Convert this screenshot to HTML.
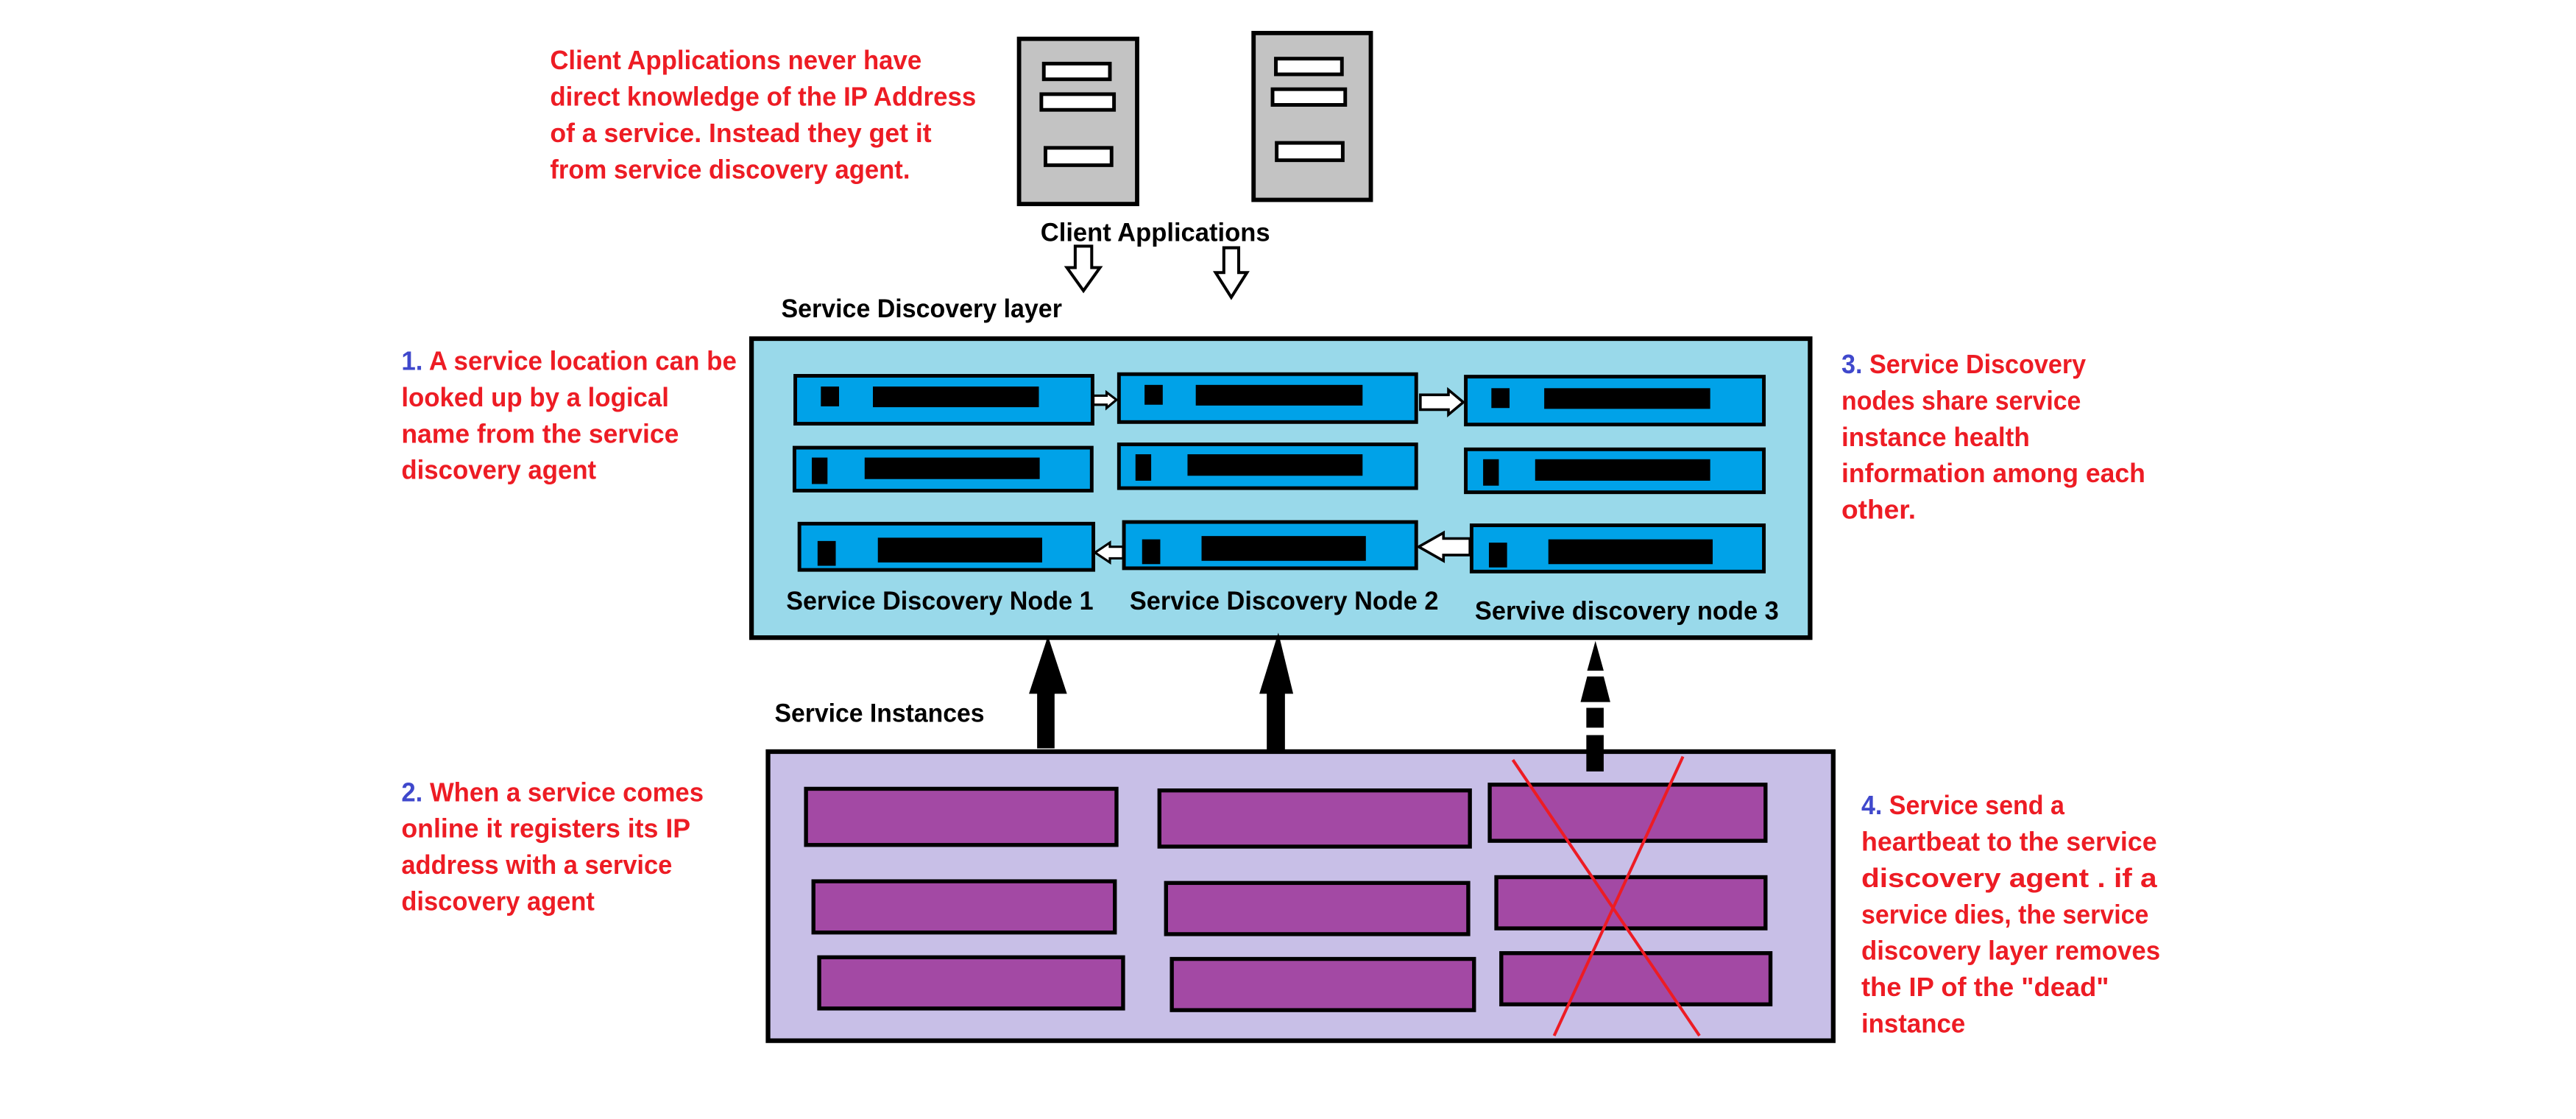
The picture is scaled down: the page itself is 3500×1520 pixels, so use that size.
<!DOCTYPE html>
<html><head><meta charset="utf-8"><style>
html,body{margin:0;padding:0;background:#fff;}
svg{display:block;}
text{font-family:"Liberation Sans",sans-serif;font-weight:bold;}
.r{fill:#ed1c24;font-size:16px;}
.k{fill:#000;font-size:15.5px;}
.b{fill:#3f48cc;}
.nd{fill:#00a2e8;stroke:#000;stroke-width:2.2;}
.pu{fill:#a349a4;stroke:#000;stroke-width:2.4;}
</style></head><body>
<svg width="3500" height="1520" viewBox="0 0 1559.7 677.4" xmlns="http://www.w3.org/2000/svg">
<rect width="1559.7" height="677.4" fill="#fff"/>

<!-- top red text -->
<text class="r" x="333" y="42" textLength="225" lengthAdjust="spacingAndGlyphs">Client Applications never have</text>
<text class="r" x="333" y="64" textLength="258" lengthAdjust="spacingAndGlyphs">direct knowledge of the IP Address</text>
<text class="r" x="333" y="86" textLength="231" lengthAdjust="spacingAndGlyphs">of a service. Instead they get it</text>
<text class="r" x="333" y="108" textLength="218" lengthAdjust="spacingAndGlyphs">from service discovery agent.</text>

<!-- client servers -->
<rect x="617" y="23.5" width="71.5" height="100" fill="#c3c3c3" stroke="#000" stroke-width="2.6"/>
<rect x="632" y="38.5" width="40" height="9.5" fill="#fff" stroke="#000" stroke-width="2.2"/>
<rect x="630.5" y="57" width="44" height="9.5" fill="#fff" stroke="#000" stroke-width="2.2"/>
<rect x="633" y="89.5" width="40" height="10.5" fill="#fff" stroke="#000" stroke-width="2.2"/>
<rect x="759" y="20" width="71" height="101" fill="#c3c3c3" stroke="#000" stroke-width="2.6"/>
<rect x="772.5" y="35.5" width="40" height="9.5" fill="#fff" stroke="#000" stroke-width="2.2"/>
<rect x="770.5" y="54" width="44" height="9.5" fill="#fff" stroke="#000" stroke-width="2.2"/>
<rect x="773" y="86.5" width="40" height="10.5" fill="#fff" stroke="#000" stroke-width="2.2"/>

<text class="k" x="630" y="146" textLength="139" lengthAdjust="spacingAndGlyphs">Client Applications</text>
<!-- hollow down arrows -->
<polygon points="651,149 661,149 661,162 666,162 656,176 646,162 651,162" fill="#fff" stroke="#000" stroke-width="1.8"/>
<polygon points="741,150 750,150 750,165 755,165 745.5,180 736,165 741,165" fill="#fff" stroke="#000" stroke-width="1.8"/>

<text class="k" x="473" y="192" textLength="170" lengthAdjust="spacingAndGlyphs">Service Discovery layer</text>

<!-- left texts -->
<text class="r" x="243" y="224" textLength="203" lengthAdjust="spacingAndGlyphs"><tspan class="b">1.</tspan> A service location can be</text>
<text class="r" x="243" y="246" textLength="162" lengthAdjust="spacingAndGlyphs">looked up by a logical</text>
<text class="r" x="243" y="268" textLength="168" lengthAdjust="spacingAndGlyphs">name from the service</text>
<text class="r" x="243" y="290" textLength="118" lengthAdjust="spacingAndGlyphs">discovery agent</text>

<text class="r" x="243" y="485" textLength="183" lengthAdjust="spacingAndGlyphs"><tspan class="b">2.</tspan> When a service comes</text>
<text class="r" x="243" y="507" textLength="175" lengthAdjust="spacingAndGlyphs">online it registers its IP</text>
<text class="r" x="243" y="529" textLength="164" lengthAdjust="spacingAndGlyphs">address with a service</text>
<text class="r" x="243" y="551" textLength="117" lengthAdjust="spacingAndGlyphs">discovery agent</text>

<!-- right texts -->
<text class="r" x="1115" y="226" textLength="148" lengthAdjust="spacingAndGlyphs"><tspan class="b">3.</tspan> Service Discovery</text>
<text class="r" x="1115" y="248" textLength="145" lengthAdjust="spacingAndGlyphs">nodes share service</text>
<text class="r" x="1115" y="270" textLength="114" lengthAdjust="spacingAndGlyphs">instance health</text>
<text class="r" x="1115" y="292" textLength="184" lengthAdjust="spacingAndGlyphs">information among each</text>
<text class="r" x="1115" y="314" textLength="45" lengthAdjust="spacingAndGlyphs">other.</text>

<text class="r" x="1127" y="493" textLength="123" lengthAdjust="spacingAndGlyphs"><tspan class="b">4.</tspan> Service send a</text>
<text class="r" x="1127" y="515" textLength="179" lengthAdjust="spacingAndGlyphs">heartbeat to the service</text>
<text class="r" x="1127" y="537" textLength="179" lengthAdjust="spacingAndGlyphs">discovery agent . if a</text>
<text class="r" x="1127" y="559" textLength="174" lengthAdjust="spacingAndGlyphs">service dies, the service</text>
<text class="r" x="1127" y="581" textLength="181" lengthAdjust="spacingAndGlyphs">discovery layer removes</text>
<text class="r" x="1127" y="603" textLength="150" lengthAdjust="spacingAndGlyphs">the IP of the "dead"</text>
<text class="r" x="1127" y="625" textLength="63" lengthAdjust="spacingAndGlyphs">instance</text>

<!-- discovery layer box -->
<rect x="455" y="205" width="641" height="181" fill="#99d9ea" stroke="#000" stroke-width="2.8"/>

<!-- nodes -->
<g>
<rect class="nd" x="481.5" y="227.5" width="180" height="29"/><rect x="497" y="234" width="11" height="12"/><rect x="528.5" y="234" width="100.5" height="12.5"/>
<rect class="nd" x="677.5" y="226.5" width="180" height="29"/><rect x="693" y="233" width="11" height="12"/><rect x="724" y="233" width="101" height="12.5"/>
<rect class="nd" x="887.5" y="228" width="180.5" height="29"/><rect x="903" y="235" width="11" height="12"/><rect x="935" y="235" width="100.5" height="12.5"/>

<rect class="nd" x="481" y="271" width="180" height="26"/><rect x="491.5" y="277" width="9.5" height="16"/><rect x="523.5" y="277" width="106" height="13"/>
<rect class="nd" x="677.5" y="269" width="180" height="26.5"/><rect x="687.5" y="275" width="9.5" height="16"/><rect x="719" y="275" width="106" height="13"/>
<rect class="nd" x="887.5" y="272" width="180.5" height="26"/><rect x="898" y="278" width="9.5" height="16"/><rect x="929.5" y="278" width="106" height="13"/>

<rect class="nd" x="484" y="317" width="178" height="28"/><rect x="495" y="327.5" width="11" height="15"/><rect x="531.5" y="325.5" width="99.5" height="15"/>
<rect class="nd" x="680.5" y="316" width="177" height="28"/><rect x="691.5" y="326.5" width="11" height="15"/><rect x="727.5" y="324.5" width="99.5" height="15"/>
<rect class="nd" x="891" y="318" width="177" height="28"/><rect x="901.5" y="328.5" width="11" height="15"/><rect x="937.5" y="326.5" width="99.5" height="15"/>
</g>

<!-- hollow node arrows -->
<polygon points="662,239.5 670,239.5 670,237.5 676,242 670,247 670,245 662,245" fill="#fff" stroke="#000" stroke-width="1.4"/>
<polygon points="860,239 877,239 877,236 886,243.5 877,251 877,248 860,248" fill="#fff" stroke="#000" stroke-width="1.6"/>
<polygon points="680,331 672,331 672,328.5 663,334.5 672,340.5 672,338 680,338" fill="#fff" stroke="#000" stroke-width="1.4"/>
<polygon points="890,326 874,326 874,322.5 859,331 874,339.5 874,336 890,336" fill="#fff" stroke="#000" stroke-width="1.6"/>

<!-- node labels -->
<text class="k" x="476" y="369" textLength="186" lengthAdjust="spacingAndGlyphs">Service Discovery Node 1</text>
<text class="k" x="684" y="369" textLength="187" lengthAdjust="spacingAndGlyphs">Service Discovery Node 2</text>
<text class="k" x="893" y="375" textLength="184" lengthAdjust="spacingAndGlyphs">Servive discovery node 3</text>

<!-- solid up arrows -->
<polygon points="634,385 639,420 643,420 637.5,420 637.5,453 628,453 628,420 623,420 628.5,420" fill="#000"/>
<polygon points="634.5,385 623,420 646,420" fill="#000"/>
<rect x="628" y="419" width="10.5" height="34" fill="#000"/>
<polygon points="774,383 762.5,420 783,420" fill="#000"/>
<rect x="767" y="419" width="11" height="37" fill="#000"/>

<text class="k" x="469" y="437" textLength="127" lengthAdjust="spacingAndGlyphs">Service Instances</text>

<!-- instances box -->
<rect x="465" y="455" width="645" height="175" fill="#c8bfe7" stroke="#000" stroke-width="2.8"/>
<rect class="pu" x="488" y="477.5" width="188" height="34"/>
<rect class="pu" x="702" y="478.5" width="188" height="34"/>
<rect class="pu" x="902" y="475" width="167" height="34"/>
<rect class="pu" x="492.5" y="533.5" width="182.5" height="31"/>
<rect class="pu" x="706" y="534.5" width="183" height="31"/>
<rect class="pu" x="906" y="531" width="163" height="31"/>
<rect class="pu" x="496" y="579.5" width="184" height="31"/>
<rect class="pu" x="709.5" y="580.5" width="183" height="31"/>
<rect class="pu" x="909" y="577" width="163" height="31"/>

<!-- dashed up arrow (dead instance) -->
<polygon points="966,388 961,406 971,406" fill="#000"/>
<polygon points="961,409.5 971,409.5 975,425 957,425" fill="#000"/>
<rect x="960.5" y="428.5" width="10.5" height="12" fill="#000"/>
<rect x="960.5" y="445" width="10.5" height="22" fill="#000"/>

<!-- red X -->
<line x1="916" y1="460" x2="1029" y2="627" stroke="#ed1c24" stroke-width="1.8"/>
<line x1="1019" y1="458" x2="941" y2="627" stroke="#ed1c24" stroke-width="1.8"/>
</svg>
</body></html>
